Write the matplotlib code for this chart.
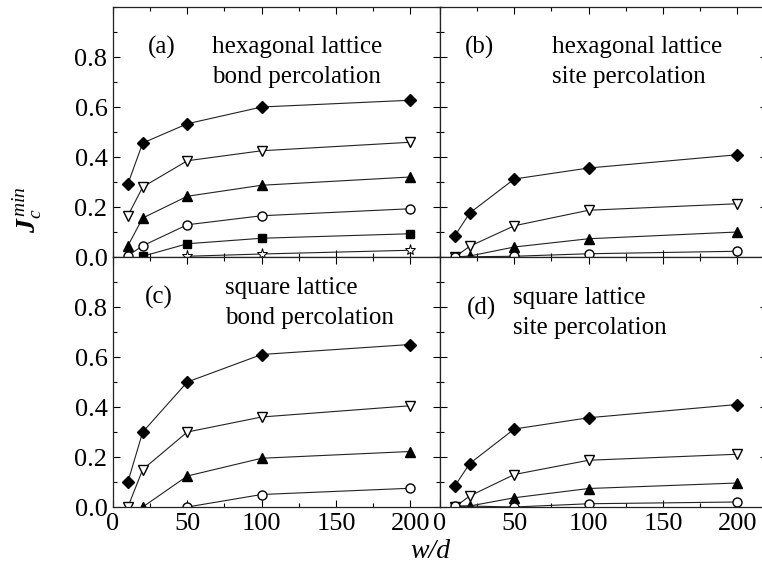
import matplotlib
matplotlib.use("Agg")
import matplotlib.pyplot as plt
from matplotlib.ticker import MultipleLocator
import numpy as np

plt.rcParams['font.family'] = ['Liberation Serif', 'DejaVu Serif']
plt.rcParams['mathtext.fontset'] = 'custom'
plt.rcParams['mathtext.rm'] = 'Liberation Serif'
plt.rcParams['mathtext.it'] = 'Liberation Serif:italic'
plt.rcParams['mathtext.bf'] = 'Liberation Serif:bold:italic'

x_all = [10, 20, 50, 100, 200]
x_from20 = [20, 50, 100, 200]
x_from50 = [50, 100, 200]

# Panel (a): hexagonal lattice, bond percolation
a_diamond = [0.292, 0.456, 0.533, 0.600, 0.627]
a_down = [0.165, 0.280, 0.385, 0.425, 0.459]
a_up = [0.045, 0.156, 0.243, 0.287, 0.320]
a_circle = [0.005, 0.045, 0.129, 0.165, 0.193]
a_square = [0.003, 0.053, 0.075, 0.093]
a_star = [0.003, 0.012, 0.027]

# Panel (b): hexagonal lattice, site percolation
b_diamond = [0.085, 0.176, 0.312, 0.356, 0.409]
b_down = [0.0, 0.043, 0.125, 0.187, 0.213]
b_up = [0.0, 0.004, 0.040, 0.073, 0.100]
b_circle = [0.0, 0.003, 0.013, 0.023]
b_circle_x = [10, 50, 100, 200]

# Panel (c): square lattice, bond percolation
c_diamond = [0.10, 0.30, 0.50, 0.61, 0.65]
c_down = [0.0, 0.15, 0.30, 0.36, 0.405]
c_up = [0.0, 0.124, 0.195, 0.222]
c_circle = [0.0, 0.050, 0.075]

# Panel (d): square lattice, site percolation
d_diamond = [0.084, 0.174, 0.312, 0.357, 0.410]
d_down = [0.0, 0.044, 0.130, 0.187, 0.211]
d_up = [0.0, 0.004, 0.037, 0.074, 0.096]
d_circle = [0.005, 0.0, 0.013, 0.020]
d_circle_x = [10, 50, 100, 200]

yticks = [0.0, 0.2, 0.4, 0.6, 0.8]
ytick_labels = ['0.0', '0.2', '0.4', '0.6', '0.8']
xticks = [0, 50, 100, 150, 200]
xtick_labels = ['0', '50', '100', '150', '200']

styles = {
    'D': dict(marker='D', mfc='black', mec='black', ms=6.5),
    'v': dict(marker='v', mfc='white', mec='black', ms=7.5),
    '^': dict(marker='^', mfc='black', mec='black', ms=7.5),
    'o': dict(marker='o', mfc='white', mec='black', ms=6.5),
    's': dict(marker='s', mfc='black', mec='black', ms=6),
    '*': dict(marker='*', mfc='white', mec='black', ms=8, mew=0.7),
}

panels = [
    ('a', [(x_all, a_diamond, 'D'), (x_all, a_down, 'v'), (x_all, a_up, '^'),
           (x_all, a_circle, 'o'), (x_from20, a_square, 's'), (x_from50, a_star, '*')],
     '(a)', ['hexagonal lattice', 'bond percolation']),
    ('b', [(x_all, b_diamond, 'D'), (x_all, b_down, 'v'), (x_all, b_up, '^'),
           (b_circle_x, b_circle, 'o')],
     '(b)', ['hexagonal lattice', 'site percolation']),
    ('c', [(x_all, c_diamond, 'D'), (x_all, c_down, 'v'), (x_from20, c_up, '^'),
           (x_from50, c_circle, 'o')],
     '(c)', ['square lattice', 'bond percolation']),
    ('d', [(x_all, d_diamond, 'D'), (x_all, d_down, 'v'), (x_all, d_up, '^'),
           (d_circle_x, d_circle, 'o')],
     '(d)', ['square lattice', 'site percolation']),
]

W, H = 762, 576
fig = plt.figure(figsize=(W / 100, H / 100), dpi=100)

ax_w = 327 / W
ax_h = 250 / H
lefts = [113 / W, 440 / W]
bottoms = [(H - 257) / H, (H - 507) / H]

pos = {'a': (lefts[0], bottoms[0]), 'b': (lefts[1], bottoms[0]),
       'c': (lefts[0], bottoms[1]), 'd': (lefts[1], bottoms[1])}

# text positions in pixel coords (x, y from top)
label_pos = {'a': (148, 47), 'b': (465, 47), 'c': (145, 297), 'd': (467, 308)}
desc_pos = {'a': (212, 47), 'b': (552, 47), 'c': (225, 288), 'd': (513, 298)}

for key, series, lab, desc in panels:
    l, b = pos[key]
    ax = fig.add_axes([l, b, ax_w, ax_h])
    for xs, ys, m in series:
        ax.plot(xs, ys, color='#222222', lw=0.8, **styles[m])
    ax.set_xlim(0, 220)
    ax.set_ylim(0, 1.0)
    ax.set_xticks(xticks)
    ax.set_xticklabels(xtick_labels)
    ax.xaxis.set_minor_locator(MultipleLocator(25))
    ax.set_yticks(yticks)
    ax.set_yticklabels(ytick_labels)
    ax.yaxis.set_minor_locator(MultipleLocator(0.1))
    ax.tick_params(which='both', direction='in', top=True, right=True,
                   labelsize=19, width=0.8, pad=4)
    ax.tick_params(which='major', length=5)
    ax.tick_params(which='minor', length=3)
    for s in ax.spines.values():
        s.set_linewidth(0.9)
        s.set_color('#222222')
    if key in ('a', 'b'):
        ax.tick_params(labelbottom=False)
    if key in ('b', 'd'):
        ax.tick_params(labelleft=False)
    lx, ly = label_pos[key]
    fig.text(lx / W, 1 - ly / H, lab, fontsize=18, va='center', ha='left')
    dx, dy = desc_pos[key]
    fig.text(dx / W, 1 - dy / H, desc[0], fontsize=18, va='center', ha='left')
    fig.text(dx / W, 1 - (dy + 30) / H, desc[1], fontsize=18, va='center', ha='left')

fig.text(27 / W, 1 - 210 / H, r'$\mathbf{J}_{c}^{\,min}$', fontsize=20,
         rotation=90, va='center', ha='center')
fig.text(430 / W, 1 - 551 / H, 'w/d', fontsize=20, style='italic',
         va='center', ha='center')

fig.savefig('out.png', dpi=100)
